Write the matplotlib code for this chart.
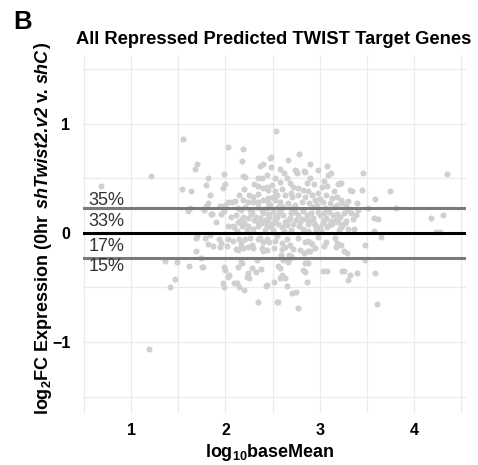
import matplotlib
matplotlib.use("Agg")
import matplotlib.pyplot as plt
import numpy as np

# ---------------- data (log10 baseMean, log2 fold change) ----------------
upper_pts = [
    (1.55,0.86),(2.03,0.79),(2.19,0.77),(2.54,0.93),(2.48,0.70),(2.78,0.72),(2.18,0.66),(2.47,0.69),
    (1.70,0.63),(1.68,0.59),(2.40,0.63),(2.37,0.61),(1.98,0.54),(1.82,0.50),(1.21,0.52),(0.68,0.43),
    (2.19,0.52),(2.21,0.51),(1.99,0.45),(1.97,0.41),(1.54,0.40),(1.63,0.38),(1.84,0.35),(1.81,0.27),
    (1.62,0.23),(1.94,0.25),(1.79,0.44),(3.08,0.61),(3.09,0.53),(3.46,0.55),(4.35,0.54),(2.83,0.57),
    (2.74,0.58),(3.21,0.46),(3.23,0.46),(3.45,0.39),(3.74,0.38),(3.59,0.31),(3.32,0.39),(3.34,0.38),
    (3.39,0.27),(3.51,0.23),(3.81,0.23),(2.34,0.50),(2.39,0.50),(2.14,0.35),
    (2.48,0.60),(2.58,0.59),(2.75,0.57),(2.76,0.55),(2.84,0.56),(2.44,0.53),
    (2.58,0.47),(2.65,0.50),(2.68,0.46),(2.72,0.42),(2.94,0.45),(3.02,0.42),(3.08,0.43),(3.19,0.45),
    (2.49,0.44),(2.45,0.39),(2.53,0.38),(2.60,0.40),(2.77,0.41),(2.82,0.39),(2.87,0.38),
    (2.63,0.35),(2.71,0.33),(2.77,0.35),(2.84,0.33),(2.92,0.35),(2.98,0.37),(3.07,0.35),(3.13,0.32),
    (3.18,0.33),(3.23,0.30),(2.45,0.32),(2.53,0.30),(2.58,0.28),
    (2.66,0.27),(2.74,0.26),(2.81,0.28),(2.89,0.27),(2.97,0.26),(3.03,0.28),(3.11,0.27),(3.18,0.26),
    (3.24,0.27),(2.47,0.26),(2.56,0.24),
    (2.25,0.35),(2.29,0.33),(2.34,0.36),(2.40,0.41),(2.44,0.42),
    (2.03,0.28),(2.07,0.28),(2.00,0.26),(1.79,0.25),
    (2.19,0.30),(2.24,0.28),(2.29,0.28),(2.35,0.28),(2.40,0.30),(2.45,0.28),
    (1.97,0.24),(2.13,0.23),(2.21,0.24),(2.34,0.24),(2.44,0.23),
    (2.30,0.45),(2.52,0.50),(2.62,0.55),(2.90,0.50),(2.95,0.30),(3.00,0.31),(2.55,0.35),(2.35,0.43),
    (2.86,0.46),(3.05,0.48),(2.70,0.37),(2.50,0.33),(3.15,0.38),(2.61,0.24),(2.70,0.23),(2.93,0.24),
    (3.06,0.23),(3.15,0.24),(3.28,0.25),(3.30,0.29),(2.20,0.40),(2.10,0.29),(2.90,0.63),(2.66,0.67),
    (2.98,0.58),(3.12,0.55),
]
mid_pts = [
    (1.77,0.21),(1.86,0.17),(2.03,0.06),(2.09,0.05),(2.16,0.21),(2.26,0.21),(2.39,0.21),(1.60,0.20),
    (2.45,0.17),(2.53,0.15),(2.61,0.16),(2.68,0.14),(2.77,0.16),(2.86,0.16),(2.93,0.14),(3.00,0.16),
    (3.07,0.14),(3.14,0.16),(3.21,0.15),
    (2.45,0.10),(2.56,0.08),(2.63,0.10),(2.72,0.08),(2.79,0.10),(2.87,0.08),(2.95,0.07),(3.03,0.09),
    (3.13,0.08),(3.19,0.10),(3.24,0.07),
    (1.95,0.17),(2.06,0.15),(2.11,0.16),(1.85,0.17),
    (2.19,0.15),(2.24,0.14),(2.32,0.15),(2.37,0.14),(2.42,0.12),(2.46,0.15),
    (2.08,0.06),(2.18,0.06),(2.24,0.06),(2.34,0.06),(2.39,0.09),(2.44,0.06),
    (2.23,0.03),(2.29,0.04),(2.42,0.03),
    (2.50,0.03),(2.60,0.05),(2.70,0.03),(2.82,0.04),(2.96,0.03),(3.08,0.05),(3.20,0.03),(3.30,0.04),
    (2.88,0.02),(3.00,0.05),
    (2.28,0.19),(2.50,0.19),(2.58,0.20),(2.74,0.19),(2.82,0.20),(2.98,0.19),(3.10,0.19),(3.26,0.18),
    (3.30,0.20),
    (2.30,0.12),(2.52,0.12),(2.66,0.12),(2.75,0.12),(2.90,0.11),(3.05,0.12),(3.17,0.12),(3.28,0.11),
    (3.35,0.13),
    (3.57,0.14),(3.62,0.13),(3.58,0.02),(4.18,0.14),(4.31,0.16),(4.23,0.01),(4.27,0.01),(3.36,0.04),
    (3.41,0.21),
    (1.90,0.10),(2.13,0.10),(2.20,0.09),(2.55,0.15),(2.85,0.13),(3.12,0.11),(2.65,0.07),(2.40,0.18),
    (3.38,0.16),(1.98,0.20),
    (2.27,0.17),(2.35,0.10),(2.48,0.05),(2.57,0.18),(2.62,0.02),(2.69,0.18),(2.78,0.06),(2.81,0.13),
    (2.91,0.18),(2.94,0.09),(3.01,0.02),(3.04,0.18),(3.10,0.07),(3.18,0.17),(3.22,0.05),(3.27,0.09),
    (2.16,0.12),(2.12,0.02),(3.33,0.18),(2.50,0.09),
]
lowmid_pts = [
    (1.69,-0.05),(1.78,-0.05),(1.82,-0.10),(1.87,-0.12),(1.94,-0.13),(2.02,-0.12),(1.69,-0.17),
    (1.70,-0.03),(1.84,-0.02),(1.93,-0.06),(1.95,-0.09),(2.03,-0.06),(2.08,-0.07),(2.14,-0.06),
    (2.16,-0.09),(2.19,-0.14),(2.21,-0.06),(2.26,-0.05),(2.28,-0.11),(2.34,-0.06),(2.37,-0.05),
    (2.40,-0.08),(2.44,-0.06),
    (2.11,-0.15),(2.13,-0.16),(2.16,-0.13),(2.24,-0.13),(2.29,-0.14),(2.39,-0.14),(2.40,-0.17),
    (2.46,-0.08),(2.53,-0.07),(2.60,-0.09),(2.65,-0.06),(2.68,-0.11),(2.77,-0.05),(2.84,-0.08),
    (2.88,-0.07),(2.91,-0.09),(3.16,-0.05),(3.18,-0.09),(3.23,-0.11),
    (2.44,-0.16),(2.51,-0.14),(2.60,-0.15),(2.63,-0.13),(2.79,-0.16),(2.88,-0.17),
    (2.59,-0.20),(2.67,-0.20),
    (3.07,-0.08),(3.17,-0.13),(3.26,-0.17),(3.29,-0.18),(3.48,-0.11),(3.65,-0.04),
    (2.83,-0.18),(2.90,-0.17),(2.95,-0.14),(2.92,-0.10),(2.70,-0.21),
    (2.98,-0.04),(3.05,-0.12),(2.55,-0.03),(2.72,-0.15),
]
low_pts = [
    (1.36,-0.26),(1.49,-0.27),(1.61,-0.30),(1.75,-0.31),(1.98,-0.31),(1.99,-0.34),(2.03,-0.40),
    (2.18,-0.28),(2.23,-0.40),(2.24,-0.37),(2.28,-0.32),(1.47,-0.42),(1.41,-0.50),(1.97,-0.46),
    (1.98,-0.50),(2.09,-0.46),(2.34,-0.63),(2.43,-0.49),(2.55,-0.63),
    (1.74,-0.23),(1.76,-0.31),(2.04,-0.39),(2.13,-0.31),(2.16,-0.27),(2.33,-0.25),(2.32,-0.36),
    (2.25,-0.41),(2.12,-0.46),(2.14,-0.50),(2.44,-0.48),
    (2.66,-0.27),(2.56,-0.30),(2.58,-0.32),(2.84,-0.28),(2.87,-0.28),(2.82,-0.34),(2.84,-0.36),
    (3.03,-0.35),(3.08,-0.35),(2.60,-0.39),(2.58,-0.41),(2.63,-0.41),(2.51,-0.45),(2.65,-0.49),
    (2.86,-0.45),(2.71,-0.55),(2.75,-0.54),(2.56,-0.63),(2.77,-0.69),(3.24,-0.35),
    (3.48,-0.25),(3.59,-0.37),(3.26,-0.35),(3.39,-0.37),(3.30,-0.43),(3.32,-0.39),(3.61,-0.65),
    (2.68,-0.23),(2.61,-0.25),(1.19,-1.06),(2.20,-0.52),(2.38,-0.33),
]

threshold = 0.226          # log2 fold-change cut-off lines
band_labels = ["35%", "33%", "17%", "15%"]
band_label_y = [0.30, 0.10, -0.12, -0.31]
x_ticks = [1, 2, 3, 4]
y_ticks = [-1, 0, 1]
y_ticklabels = ["\u22121", "0", "1"]

title = "All Repressed Predicted TWIST Target Genes"
# y label pieces: (text, italic?)
ylabel_parts = [(r"log$_\mathbf{2}$FC Expression (0hr", False), (" shTwist2.v2", True),
                (" v. ", False), ("shC", True), (")", False)]

# ---------------- style ----------------
plt.rcParams["font.family"] = ["Liberation Sans", "DejaVu Sans"]
plt.rcParams["mathtext.fontset"] = "custom"
plt.rcParams["mathtext.rm"] = "Liberation Sans:bold"
plt.rcParams["mathtext.it"] = "Liberation Sans:italic:bold"
plt.rcParams["mathtext.bf"] = "Liberation Sans:bold"

fig = plt.figure(figsize=(4.78, 4.65), dpi=100)
ax = fig.add_axes([83/478, 1-413/465, (466-83)/478, (413-55)/465])

all_pts = np.array(upper_pts + mid_pts + lowmid_pts + low_pts)
ax.scatter(all_pts[:, 0], all_pts[:, 1], s=19, color="#d0d0d0", linewidths=0, zorder=2)

ax.axhline(threshold, color="#7a7a7a", lw=2.2, zorder=3)
ax.axhline(-threshold, color="#7a7a7a", lw=2.2, zorder=3)
ax.axhline(0, color="black", lw=2.2, zorder=4)

for lab, yv in zip(band_labels, band_label_y):
    ax.text(0.545, yv, lab, fontsize=13, color="#333333", ha="left", va="center", zorder=5)

ax.set_xlim(0.49, 4.55)
ax.set_ylim(-1.65, 1.63)
ax.set_xticks(x_ticks)
ax.set_yticks(y_ticks)
ax.set_yticklabels(y_ticklabels)
ax.set_xticks([0.5, 1.5, 2.5, 3.5, 4.5], minor=True)
ax.set_yticks([-1.5, -0.5, 0.5, 1.5], minor=True)
ax.grid(True, which="major", color="#ebebeb", lw=0.9, zorder=0)
ax.grid(True, which="minor", color="#ebebeb", lw=0.9, zorder=0)
ax.set_axisbelow(True)
for s in ax.spines.values():
    s.set_visible(False)
ax.tick_params(which="both", length=0)
ax.tick_params(axis="x", pad=7, labelsize=11.5)
ax.tick_params(axis="y", pad=9, labelsize=11.5)
for t in ax.get_xticklabels() + ax.get_yticklabels():
    t.set_fontweight("bold")
    t.set_color("black")

fig.text(274/478, 1-40/465, title, fontsize=13.2, fontweight="bold", ha="center", va="center")
fig.text(13/478, 1-22/465, "B", fontsize=18.5, fontweight="bold", ha="left", va="center")
fig.text(270/478, 1-452/465, r"log$_\mathbf{10}$baseMean", fontsize=13, fontweight="bold",
         ha="center", va="center")

# rotated y label assembled piece by piece (bold, with italic bold parts)
renderer = fig.canvas.get_renderer()
texts = []
for part, ital in ylabel_parts:
    t = fig.text(0, 0, part, fontsize=13, fontweight="bold",
                 fontstyle="italic" if ital else "normal",
                 rotation=90, rotation_mode="anchor", ha="left", va="center")
    texts.append(t)
heights = [t.get_window_extent(renderer).height for t in texts]
total = sum(heights)
cx, cy = 43, 465 - 229   # pixel centre (from bottom)
y0 = cy - total / 2
for t, h in zip(texts, heights):
    t.set_position((cx / 478, y0 / 465))
    y0 += h

fig.savefig("out.png", dpi=100)
